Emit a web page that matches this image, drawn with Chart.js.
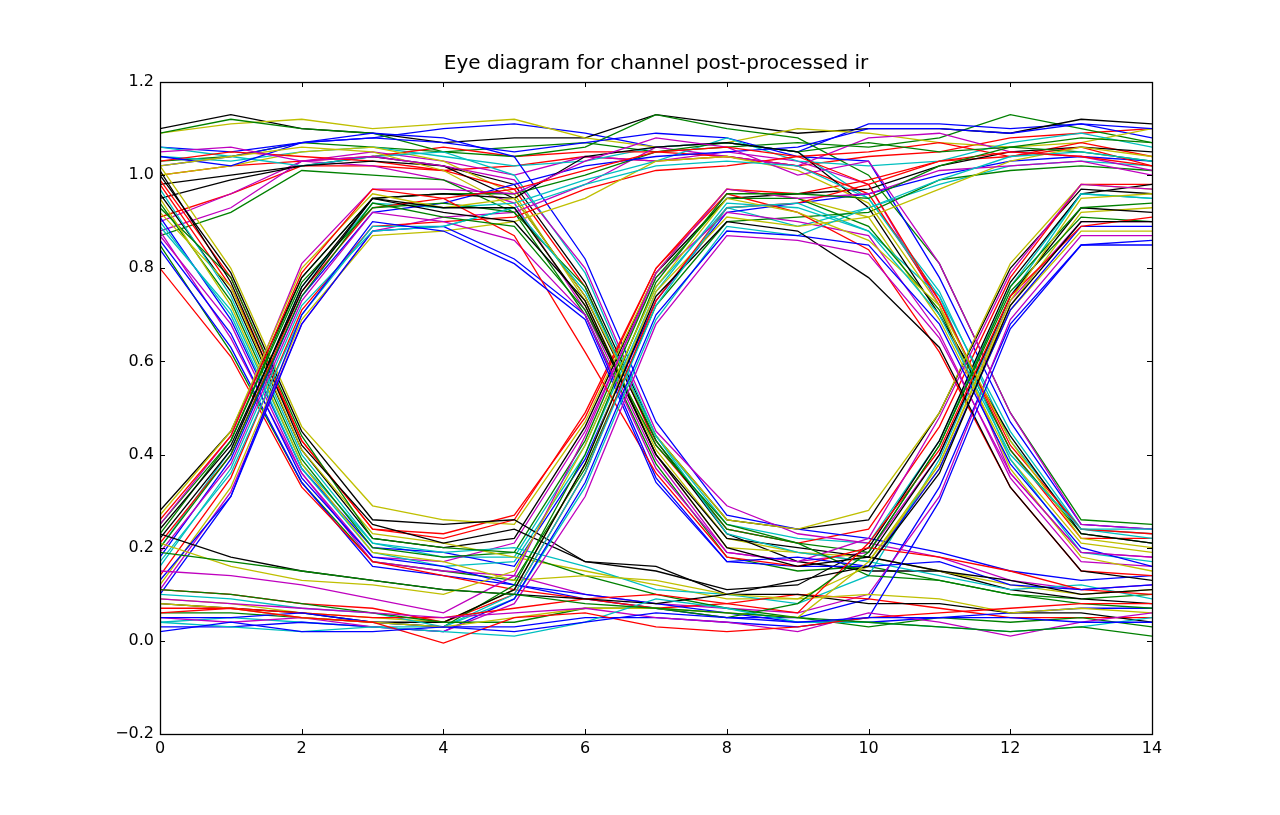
<!DOCTYPE html>
<html><head><meta charset="utf-8">
<script src="https://cdn.jsdelivr.net/npm/chart.js@4.4.1/dist/chart.umd.min.js"></script>
<style>html,body{margin:0;padding:0;background:#fff;}canvas{display:block;}</style>
</head><body>
<canvas id="c" width="1280" height="815"></canvas>
<script>
const sampleIndex = [0,1,2,3,4,5,6,7,8,9,10,11,12,13,14];
const xTicks = [0,2,4,6,8,10,12,14];
const yTicks = [-0.2,0,0.2,0.4,0.6,0.8,1.0,1.2];
const titleText = 'Eye diagram for channel post-processed ir';
const lineColors = ['#0000ff','#008000','#ff0000','#00bfbf','#bf00bf','#bfbf00','#000000'];

const lowLowLowLow = [
 [0.02,0.04,0.02,0.02,0.03,0.02,0.04,0.06,0.05,0.04,0.05,0.05,0.05,0.04,0.04],
 [0.19,0.17,0.15,0.13,0.11,0.10,0.08,0.07,0.06,0.05,0.04,0.03,0.02,0.03,0.01],
 [0.07,0.07,0.05,0.04,-0.005,0.05,0.06,0.03,0.02,0.03,0.05,0.06,0.07,0.08,0.08],
 [0.04,0.03,0.02,0.03,0.02,0.01,0.04,0.09,0.07,0.04,0.04,0.03,0.02,0.03,0.05],
 [0.09,0.08,0.07,0.06,0.05,0.06,0.07,0.05,0.04,0.02,0.06,0.04,0.01,0.04,0.06]
];
const lowLowLowHigh = [
 [0.08,0.07,0.05,0.04,0.03,0.05,0.07,0.07,0.06,0.05,0.17,0.38,0.73,0.95,0.96],
 [0.23,0.18,0.15,0.13,0.11,0.10,0.09,0.08,0.10,0.13,0.16,0.36,0.72,0.90,0.90],
 [0.05,0.05,0.06,0.04,0.03,0.03,0.05,0.05,0.04,0.03,0.05,0.30,0.67,0.85,0.86],
 [0.11,0.10,0.08,0.06,0.04,0.04,0.07,0.07,0.05,0.08,0.19,0.42,0.76,0.93,0.94],
 [0.06,0.07,0.06,0.05,0.05,0.07,0.09,0.10,0.08,0.06,0.21,0.41,0.74,0.89,0.91]
];
const lowLowHighLow = [
 [0.10,0.09,0.07,0.06,0.03,0.10,0.36,0.72,0.93,0.94,0.88,0.70,0.40,0.24,0.24],
 [0.05,0.04,0.05,0.03,0.02,0.08,0.31,0.68,0.87,0.86,0.83,0.65,0.36,0.19,0.18],
 [0.21,0.16,0.13,0.12,0.10,0.15,0.42,0.76,0.95,0.92,0.86,0.72,0.43,0.22,0.20],
 [0.08,0.07,0.06,0.04,0.04,0.11,0.38,0.74,0.90,0.88,0.78,0.63,0.33,0.15,0.13],
 [0.03,0.03,0.04,0.03,0.02,0.09,0.34,0.70,0.88,0.87,0.85,0.68,0.38,0.20,0.16]
];
const lowLowHighHigh = [
 [0.06,0.06,0.05,0.04,0.03,0.12,0.40,0.77,0.96,0.96,0.95,1.02,1.06,1.08,1.07],
 [0.11,0.10,0.08,0.07,0.04,0.10,0.36,0.73,0.93,0.94,0.98,1.03,1.05,1.04,1.02],
 [0.04,0.05,0.04,0.03,0.03,0.09,0.33,0.69,0.89,0.87,0.93,0.99,1.04,1.05,1.03],
 [0.15,0.14,0.12,0.09,0.06,0.14,0.44,0.79,0.97,0.95,0.96,1.01,1.02,1.03,1.00],
 [0.09,0.08,0.06,0.05,0.04,0.11,0.38,0.75,0.91,0.89,0.91,0.97,1.03,1.06,1.04]
];
const lowHighLowLow = [
 [0.24,0.42,0.75,0.95,0.93,0.93,0.72,0.40,0.20,0.16,0.18,0.15,0.13,0.10,0.11],
 [0.13,0.31,0.70,0.90,0.88,0.81,0.69,0.34,0.17,0.18,0.16,0.17,0.12,0.11,0.12],
 [0.20,0.40,0.74,0.94,0.91,0.89,0.71,0.42,0.25,0.21,0.14,0.13,0.10,0.08,0.07],
 [0.26,0.44,0.79,0.97,0.95,0.87,0.62,0.36,0.18,0.16,0.20,0.18,0.15,0.11,0.10],
 [0.16,0.37,0.72,0.88,0.89,0.93,0.75,0.44,0.23,0.19,0.17,0.14,0.11,0.12,0.09]
];
const lowHighLowHigh = [
 [0.19,0.38,0.73,0.92,0.90,0.86,0.70,0.37,0.19,0.17,0.22,0.48,0.79,0.98,0.97],
 [0.27,0.45,0.80,0.96,0.93,0.95,0.74,0.44,0.26,0.24,0.28,0.49,0.81,0.98,0.97],
 [0.22,0.41,0.76,0.95,0.92,0.90,0.73,0.40,0.22,0.20,0.18,0.40,0.74,0.93,0.92],
 [0.10,0.31,0.68,0.88,0.89,0.82,0.70,0.35,0.17,0.16,0.16,0.37,0.71,0.89,0.89],
 [0.23,0.43,0.77,0.93,0.94,0.92,0.76,0.43,0.24,0.21,0.19,0.42,0.75,0.91,0.90]
];
const lowHighHighLow = [
 [0.21,0.40,0.75,0.93,0.95,0.97,1.01,1.05,1.06,1.04,0.98,0.73,0.42,0.24,0.23],
 [0.17,0.36,0.70,0.89,0.89,0.93,0.98,1.02,1.03,1.02,0.95,0.74,0.39,0.19,0.17],
 [0.25,0.44,0.81,0.97,0.97,0.96,1.03,1.08,1.06,1.00,1.03,0.81,0.49,0.25,0.24],
 [0.12,0.33,0.69,0.87,0.88,0.90,0.95,1.03,1.04,1.01,0.94,0.72,0.37,0.18,0.15],
 [0.28,0.45,0.78,0.95,0.96,0.95,1.04,1.06,1.07,1.05,0.93,0.70,0.44,0.23,0.21]
];
const lowHighHighHigh = [
 [0.18,0.39,0.74,0.92,0.94,0.98,1.02,1.04,1.05,1.06,1.10,1.10,1.09,1.11,1.10],
 [0.25,0.43,0.78,0.95,0.96,0.96,1.00,1.05,1.07,1.05,1.07,1.05,1.06,1.05,1.03],
 [0.14,0.35,0.71,0.89,0.90,0.91,0.97,1.01,1.02,1.04,1.05,1.07,1.04,1.06,1.02],
 [0.20,0.41,0.76,0.94,0.93,0.94,0.99,1.03,1.08,1.03,1.02,1.03,1.07,1.09,1.06],
 [0.11,0.32,0.68,0.88,0.91,0.92,0.98,1.06,1.04,1.02,1.08,1.09,1.05,1.04,1.01]
];
const highLowLowLow = [
 [0.95,0.72,0.38,0.19,0.17,0.13,0.14,0.13,0.10,0.09,0.10,0.09,0.06,0.07,0.06],
 [1.01,0.77,0.42,0.25,0.21,0.24,0.17,0.16,0.10,0.10,0.08,0.08,0.06,0.06,0.04],
 [0.86,0.66,0.35,0.18,0.16,0.12,0.10,0.08,0.06,0.04,0.04,0.05,0.06,0.07,0.07],
 [0.93,0.78,0.44,0.22,0.20,0.19,0.14,0.10,0.07,0.05,0.03,0.05,0.04,0.05,0.03],
 [0.80,0.61,0.33,0.17,0.14,0.11,0.09,0.07,0.08,0.10,0.09,0.07,0.05,0.05,0.05]
];
const highLowLowHigh = [
 [0.97,0.74,0.40,0.21,0.19,0.20,0.16,0.11,0.10,0.08,0.14,0.39,0.74,0.96,0.95],
 [0.88,0.65,0.36,0.17,0.15,0.14,0.10,0.08,0.07,0.06,0.10,0.31,0.69,0.87,0.87],
 [0.92,0.76,0.41,0.23,0.21,0.18,0.15,0.12,0.09,0.09,0.16,0.38,0.72,0.92,0.93],
 [1.00,0.79,0.45,0.26,0.25,0.26,0.17,0.15,0.11,0.12,0.20,0.43,0.77,0.96,0.98],
 [0.84,0.63,0.34,0.16,0.14,0.12,0.09,0.07,0.05,0.05,0.09,0.33,0.68,0.85,0.85]
];
const highLowHighLow = [
 [0.94,0.73,0.39,0.20,0.18,0.19,0.43,0.78,0.95,0.95,0.89,0.71,0.41,0.23,0.21],
 [0.99,0.78,0.43,0.24,0.22,0.26,0.49,0.80,0.96,0.92,0.84,0.62,0.33,0.15,0.14],
 [0.90,0.70,0.37,0.19,0.16,0.17,0.40,0.75,0.94,0.93,0.88,0.74,0.45,0.24,0.22],
 [0.87,0.68,0.36,0.18,0.17,0.21,0.45,0.78,0.92,0.90,0.87,0.66,0.35,0.17,0.16],
 [1.02,0.80,0.46,0.29,0.26,0.25,0.47,0.79,0.97,0.95,0.91,0.69,0.39,0.21,0.19]
];
const highLowHighHigh = [
 [0.96,0.75,0.41,0.22,0.20,0.22,0.46,0.79,0.95,0.96,0.97,1.02,1.05,1.06,1.05],
 [0.91,0.69,0.37,0.20,0.19,0.16,0.39,0.73,0.92,0.94,0.96,1.00,1.03,1.04,1.03],
 [0.85,0.62,0.34,0.17,0.15,0.13,0.37,0.72,0.90,0.91,0.92,0.99,1.01,1.02,1.01],
 [0.98,0.76,0.43,0.24,0.23,0.27,0.48,0.80,0.97,0.96,0.99,1.03,1.04,1.07,1.04],
 [0.89,0.71,0.38,0.21,0.18,0.18,0.42,0.76,0.93,0.89,0.93,0.98,1.02,1.03,1.02]
];
const highHighLowLow = [
 [1.05,1.06,1.03,1.04,1.02,0.99,0.80,0.45,0.29,0.23,0.21,0.18,0.13,0.11,0.12],
 [1.02,1.04,1.06,1.05,1.01,0.93,0.72,0.40,0.20,0.19,0.18,0.15,0.12,0.10,0.11],
 [0.98,1.00,1.02,1.03,1.02,0.95,0.74,0.43,0.23,0.17,0.15,0.15,0.11,0.09,0.08],
 [1.04,1.02,1.07,1.09,1.08,1.04,0.82,0.47,0.27,0.24,0.22,0.19,0.15,0.13,0.14],
 [0.87,0.92,1.01,1.00,0.99,0.92,0.70,0.38,0.18,0.15,0.16,0.13,0.10,0.09,0.10]
];
const highHighLowHigh = [
 [1.03,1.05,1.04,1.03,1.01,0.97,0.76,0.42,0.24,0.21,0.24,0.46,0.78,0.98,0.98],
 [1.06,1.04,1.02,1.04,1.05,1.00,0.79,0.44,0.25,0.22,0.21,0.43,0.76,0.96,0.95],
 [0.88,0.93,1.03,1.02,0.99,0.94,0.71,0.39,0.19,0.17,0.19,0.40,0.73,0.90,0.90],
 [1.00,1.02,1.05,1.06,1.03,0.96,0.73,0.41,0.22,0.19,0.17,0.37,0.71,0.88,0.88],
 [0.95,0.99,1.02,1.04,1.02,0.98,0.77,0.44,0.26,0.24,0.26,0.49,0.80,0.97,0.96]
];
const highHighHighLow = [
 [1.06,1.05,1.07,1.08,1.07,1.05,1.07,1.09,1.08,1.04,1.03,0.78,0.47,0.25,0.24],
 [1.09,1.12,1.10,1.09,1.05,1.04,1.06,1.13,1.10,1.08,1.00,0.81,0.49,0.26,0.25],
 [1.00,1.02,1.03,1.04,1.06,1.04,1.05,1.05,1.04,1.02,0.96,0.73,0.41,0.22,0.22],
 [1.04,1.03,1.05,1.06,1.04,1.02,1.03,1.06,1.07,1.05,0.95,0.75,0.43,0.24,0.23],
 [0.90,0.96,1.03,1.05,1.03,1.00,1.04,1.03,1.05,1.03,0.98,0.72,0.36,0.19,0.18]
];
const highHighHighHigh = [
 [1.09,1.11,1.12,1.10,1.11,1.12,1.08,1.06,1.07,1.10,1.09,1.07,1.06,1.07,1.10],
 [1.10,1.13,1.10,1.09,1.07,1.08,1.08,1.13,1.11,1.09,1.10,1.10,1.09,1.12,1.11],
 [1.02,1.04,1.07,1.08,1.10,1.11,1.09,1.06,1.07,1.05,1.11,1.11,1.10,1.11,1.08],
 [1.03,1.04,1.07,1.06,1.05,1.06,1.07,1.05,1.06,1.07,1.06,1.08,1.13,1.10,1.07],
 [0.91,0.96,1.02,1.02,1.01,1.02,1.04,1.03,1.04,1.02,1.04,1.05,1.08,1.09,1.10]
];

const traceGroups = [
  lowLowLowLow, lowLowLowHigh, lowLowHighLow, lowLowHighHigh,
  lowHighLowLow, lowHighLowHigh, lowHighHighLow, lowHighHighHigh,
  highLowLowLow, highLowLowHigh, highLowHighLow, highLowHighHigh,
  highHighLowLow, highHighLowHigh, highHighHighLow, highHighHighHigh
];
const traces = traceGroups.flat();

const datasets = traces.map((vals, i) => ({
  data: vals.map((v, j) => ({ x: sampleIndex[j], y: v })),
  borderColor: lineColors[i % lineColors.length],
  backgroundColor: lineColors[i % lineColors.length],
  borderWidth: 1.3,
  pointRadius: 0,
  fill: false,
  tension: 0
}));

const frameAndTicks = {
  id: 'frameAndTicks',
  afterDatasetsDraw(chart) {
    const { ctx, chartArea: a, scales: { x, y } } = chart;
    ctx.save();
    ctx.strokeStyle = '#000';
    ctx.lineWidth = 1;
    ctx.beginPath();
    x.ticks.forEach(t => {
      const px = Math.round(x.getPixelForValue(t.value)) + 0.5;
      ctx.moveTo(px, a.bottom); ctx.lineTo(px, a.bottom - 5);
      ctx.moveTo(px, a.top); ctx.lineTo(px, a.top + 5);
    });
    y.ticks.forEach(t => {
      const py = Math.round(y.getPixelForValue(t.value)) + 0.5;
      ctx.moveTo(a.left, py); ctx.lineTo(a.left + 5, py);
      ctx.moveTo(a.right, py); ctx.lineTo(a.right - 5, py);
    });
    ctx.stroke();
    ctx.lineWidth = 1.3;
    ctx.strokeRect(Math.round(a.left) + 0.5, Math.round(a.top) + 0.5,
      Math.round(a.right - a.left), Math.round(a.bottom - a.top));
    ctx.restore();
  }
};

const tickFont = { family: 'DejaVu Sans', size: 16 };

new Chart(document.getElementById('c'), {
  type: 'line',
  data: { datasets },
  plugins: [frameAndTicks],
  options: {
    responsive: false,
    animation: false,
    devicePixelRatio: 1,
    layout: { padding: { top: 0, left: 0, right: 128, bottom: 0 } },
    plugins: {
      legend: { display: false },
      tooltip: { enabled: false },
      title: {
        display: true,
        text: titleText,
        fullSize: false,
        color: '#000',
        font: { family: 'DejaVu Sans', size: 20, weight: 'normal', lineHeight: 1.2 },
        padding: { top: 52, bottom: 6 }
      }
    },
    scales: {
      x: {
        type: 'linear',
        min: 0, max: 14,
        afterBuildTicks: s => { s.ticks = xTicks.map(v => ({ value: v })); },
        afterFit: s => { s.height = 81; },
        grid: { display: false, drawTicks: false },
        border: { display: false },
        ticks: { color: '#000', font: tickFont, padding: 5, maxRotation: 0, autoSkip: false,
          callback: v => String(v) }
      },
      y: {
        type: 'linear',
        min: -0.2, max: 1.2,
        afterBuildTicks: s => { s.ticks = yTicks.map(v => ({ value: v })); },
        afterFit: s => { s.width = 160; },
        grid: { display: false, drawTicks: false },
        border: { display: false },
        ticks: { color: '#000', font: tickFont, padding: 6, autoSkip: false,
          callback: v => Number(v).toFixed(1).replace('-', '\u2212') }
      }
    }
  }
});
</script>
</body></html>
